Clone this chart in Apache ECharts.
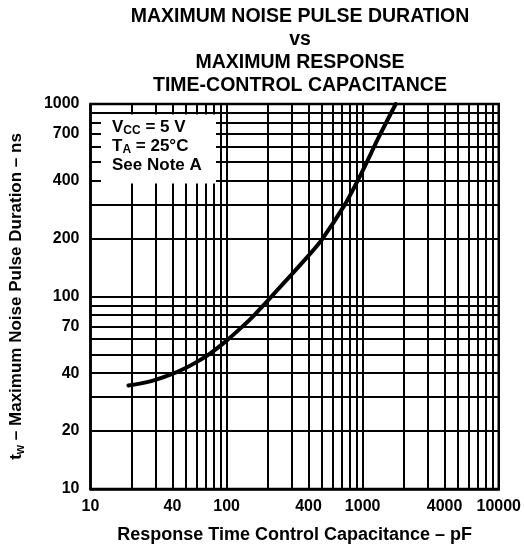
<!DOCTYPE html>
<html><head><meta charset="utf-8">
<script src="https://cdn.jsdelivr.net/npm/echarts@6/dist/echarts.min.js"></script>
<style>html,body{margin:0;padding:0;background:#fff}#c{width:524px;height:549px}</style>
</head><body><div id="c"></div>
<script>
// Response time control capacitance (pF) vs maximum noise pulse duration (ns)
const capacitancePF = [19, 25, 30, 40, 50, 60, 76, 100, 127, 150, 200, 300, 400, 500, 740, 920, 1060, 1310, 1750];
const pulseNs       = [34.5, 35.7, 36.9, 39.6, 42.5, 45.6, 50.7, 59, 68.5, 76.5, 95, 130, 163, 197, 300, 400, 490, 670, 1000];
const xTickLabels = [10, 40, 100, 400, 1000, 4000, 10000];
const yTickLabels = [10, 20, 40, 70, 100, 200, 400, 700, 1000];
const xGridValues = [20, 30, 40, 50, 60, 70, 80, 90, 100, 200, 300, 400, 500, 600, 700, 800, 900, 1000, 2000, 3000, 4000, 5000, 6000, 7000, 8000, 9000];
const yGridValues = [20, 30, 40, 50, 60, 70, 80, 90, 100, 200, 300, 400, 500, 600, 700, 800, 900];
const titleLines = ['MAXIMUM NOISE PULSE DURATION', 'vs', 'MAXIMUM RESPONSE', 'TIME-CONTROL CAPACITANCE'];
const noteLines = ['{m|V}{s|CC}{m| = 5 V}', '{m|T}{s|A}{m| = 25°C}', '{m|See Note A}'];

const FONT = '"Liberation Sans", Arial, Helvetica, sans-serif';
const chart = echarts.init(document.getElementById('c'), null, {renderer: 'canvas'});
const gridLine = {color: '#000', width: 2, type: 'solid'};
const plainNumber = v => String(Math.round(v));

const option = {
  animation: false,
  backgroundColor: '#fff',
  grid: {left: 89.5, right: 25, top: 104, bottom: 56.5, show: true, borderColor: '#000', borderWidth: 2.5, backgroundColor: 'transparent'},
  xAxis: {
    type: 'log', logBase: 10, min: 10, max: 10000,
    axisLine: {show: true, lineStyle: {color: '#000', width: 2.5}},
    axisTick: {show: false},
    splitLine: {show: false},
    axisLabel: {customValues: xTickLabels, formatter: plainNumber, color: '#000', fontFamily: FONT, fontWeight: 'bold', fontSize: 16, margin: 10},
    name: 'Response Time Control Capacitance – pF',
    nameLocation: 'middle', nameGap: 37,
    nameTextStyle: {color: '#000', fontFamily: FONT, fontWeight: 'bold', fontSize: 18}
  },
  yAxis: {
    type: 'log', logBase: 10, min: 10, max: 1000,
    axisLine: {show: true, lineStyle: {color: '#000', width: 2.5}},
    axisTick: {show: false},
    splitLine: {show: false},
    axisLabel: {customValues: yTickLabels, formatter: plainNumber, color: '#000', fontFamily: FONT, fontWeight: 'bold', fontSize: 16, margin: 11},
    name: '{i|t}{s|w}{i| – Maximum Noise Pulse Duration – ns}',
    nameLocation: 'middle', nameGap: 64,
    nameTextStyle: {
      color: '#000', fontFamily: FONT, fontWeight: 'bold', fontSize: 17,
      rich: {
        i: {fontFamily: FONT, fontWeight: 'bold', fontSize: 17, color: '#000', lineHeight: 20},
        s: {fontFamily: FONT, fontWeight: 'bold', fontSize: 12, color: '#000', lineHeight: 10, verticalAlign: 'bottom'}
      }
    }
  },
  series: [{
    type: 'line',
    data: capacitancePF.map((c, i) => [c, pulseNs[i]]),
    smooth: 0.25,
    showSymbol: false,
    lineStyle: {color: '#000', width: 4, join: 'round', cap: 'round'},
    z: 3,
    markLine: {
      silent: true, symbol: ['none', 'none'], label: {show: false},
      lineStyle: gridLine,
      data: xGridValues.map(v => ({xAxis: v})).concat(yGridValues.map(v => ({yAxis: v})))
    }
  }],
  graphic: [
    {type: 'text', z: 10,
      style: {x: 300, y: 5.5, text: titleLines.join('\n'), fill: '#000', font: 'bold 19.5px ' + FONT, lineHeight: 23, textAlign: 'center', textVerticalAlign: 'top'}},
    {type: 'rect', z: 50, shape: {x: 101, y: 114.5, width: 115, height: 69}, style: {fill: '#fff'}},
    {type: 'text', z: 51,
      style: {x: 112, y: 118, text: noteLines.join('\n'), fill: '#000', textVerticalAlign: 'top',
        rich: {
          m: {fontFamily: FONT, fontWeight: 'bold', fontSize: 17, lineHeight: 19, fill: '#000'},
          s: {fontFamily: FONT, fontWeight: 'bold', fontSize: 12, lineHeight: 10, verticalAlign: 'bottom', fill: '#000'}
        }}}
  ]
};
chart.setOption(option);
</script></body></html>
